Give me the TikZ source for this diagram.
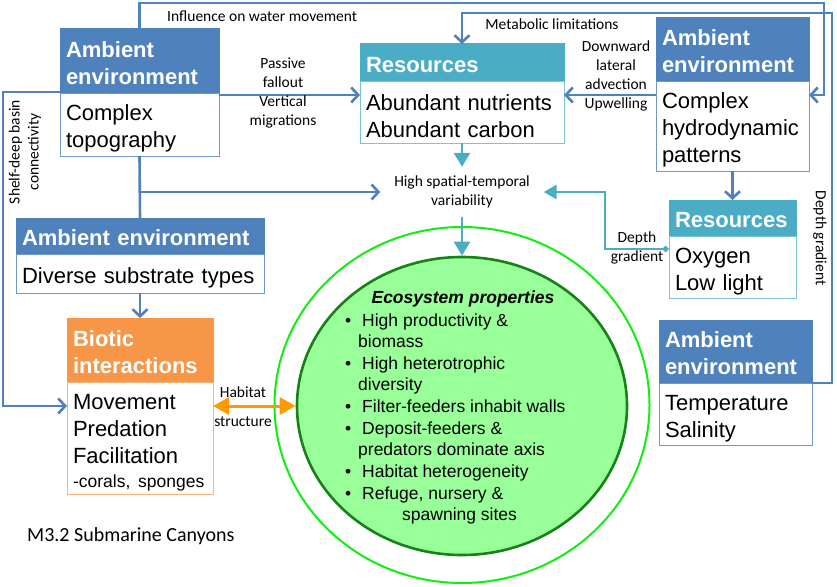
\documentclass[tikz,border=0pt]{standalone}
\usepackage{fontspec}
\setmainfont{Liberation Sans}
\newfontfamily\calib{Carlito}
\usetikzlibrary{arrows.meta,shapes.geometric,calc}
\definecolor{ambblue}{HTML}{4F81BD}
\definecolor{ambline}{HTML}{6F97CC}
\definecolor{resteal}{HTML}{4BACC6}
\definecolor{resline}{HTML}{7CC3D6}
\definecolor{bioorange}{HTML}{F79646}
\definecolor{bioline}{HTML}{FAB37E}
\definecolor{arrorange}{HTML}{FF9900}
\definecolor{outergreen}{HTML}{11EE11}
\definecolor{innerfill}{HTML}{99FF99}
\definecolor{innerdraw}{HTML}{178217}
\newcommand\lblfont{\calib\fontsize{15.5}{19}\selectfont}
\newcommand\bstrut{\rule{0pt}{24pt}}
\newcommand\hstrut{\rule{0pt}{20pt}}
\begin{document}
\begin{tikzpicture}[x=1pt,y=-1pt,
  hdr/.style={fill=#1,draw=#1,line width=1pt,text=white,anchor=north west,outer sep=0pt,
    inner xsep=6pt,inner ysep=0pt,align=left,font=\fontsize{22}{27}\selectfont\bfseries},
  bdy/.style={fill=white,draw=#1,line width=1pt,anchor=north west,outer sep=0pt,
    inner xsep=6pt,inner ysep=0pt,align=left,font=\fontsize{22}{27}\selectfont},
  lbl/.style={font=\lblfont,inner sep=0pt},
  bline/.style={draw=ambblue,line width=2.6pt},
  barrow/.style={bline,-{Straight Barb[length=7pt,width=15pt]}},
  tarrow/.style={draw=resteal,line width=2.8pt,-{Triangle[length=14pt,width=16pt]}},
  eco/.style={font=\fontsize{17.5}{21}\selectfont,anchor=west,inner sep=0pt,text height=0.72em,text depth=0.16em}
]
\useasboundingbox (0,0) rectangle (837,586);
\fill[white] (0,0) rectangle (837,586);

% ---- ellipses
\node[ellipse,draw=outergreen,line width=2pt,minimum width=375pt,minimum height=356pt,inner sep=0pt] (outer) at (462,405) {};
\node[ellipse,draw=innerdraw,fill=innerfill,line width=2.6pt,minimum width=330pt,minimum height=298pt,inner sep=0pt] (inner) at (462,406) {};

% ---- boxes
\node[hdr=ambblue,minimum width=159pt,minimum height=64pt,text width=147pt] (A1h) at (60,29) {\hstrut Ambient\\environment};
\node[bdy=ambline,minimum width=159pt,minimum height=63pt,text width=147pt] (A1b) at (60,93) {\bstrut Complex\\topography};

\node[hdr=resteal,minimum width=204pt,minimum height=37pt,text width=192pt] (Rh) at (360,44) {\hstrut Resources};
\node[bdy=resline,minimum width=204pt,minimum height=62pt,text width=192pt] (Rb) at (360,81) {\bstrut Abundant nutrients\\Abundant carbon};

\node[hdr=ambblue,minimum width=153pt,minimum height=63pt,text width=141pt] (A2h) at (656,18) {\hstrut Ambient\\environment};
\node[bdy=ambline,minimum width=153pt,minimum height=90pt,text width=141pt] (A2b) at (656,81) {\bstrut Complex\\hydrodynamic\\patterns};

\node[hdr=ambblue,minimum width=248pt,minimum height=36pt,text width=236pt] (Dh) at (16,218) {\hstrut Ambient environment};
\node[bdy=ambline,minimum width=248pt,minimum height=39pt,text width=236pt] (Db) at (16,254) {\bstrut Diverse substrate types};

\node[hdr=bioorange,minimum width=146pt,minimum height=64pt,text width=134pt] (Bh) at (67,318) {\hstrut Biotic\\interactions};
\node[bdy=bioline,minimum width=146pt,minimum height=112pt,text width=134pt] (Bb) at (67,382) {\bstrut Movement\\Predation\\Facilitation\\[-3pt]\mbox{\fontsize{17.5}{21}\selectfont -corals,\hspace{0.45em}sponges}};

\node[hdr=resteal,minimum width=127pt,minimum height=36pt,text width=115pt] (R2h) at (669,200) {\hstrut Resources};
\node[bdy=resline,minimum width=127pt,minimum height=62pt,text width=115pt] (R2b) at (669,236) {\bstrut Oxygen\\Low light};

\node[hdr=ambblue,minimum width=153pt,minimum height=63pt,text width=141pt] (A3h) at (659,320) {\hstrut Ambient\\environment};
\node[bdy=ambline,minimum width=153pt,minimum height=62pt,text width=141pt] (A3b) at (659,383) {\bstrut Temperature\\Salinity};

% ---- central label
\node[lbl,align=center,minimum width=163pt,minimum height=50pt] (HS) at (462,192) {High spatial-temporal\\variability};

% ---- coordinates
\coordinate (tr1) at (824,3);
\coordinate (tr2) at (832,13);
\coordinate (tl) at (3,406);
\coordinate (dg) at (605,192);
\coordinate (br) at (A1b.south |- HS.west);

% ---- connectors
\draw[barrow] (A1h.north) |- (tr1) |- ([yshift=-14pt]A2b.north east);
\draw[barrow] (A3b.north east) -| (tr2) -| (Rh.north);
\draw[barrow] ([yshift=1pt]A1b.north west) -| (tl) -- (tl -| Bb.west);
\draw[barrow] ([yshift=-2pt]A1b.north east) coordinate (p1) -- (p1 -| Rb.west);
\draw[barrow] ([yshift=-14pt]A2b.north west) coordinate (p2) -- (p2 -| Rb.east);
\draw[bline] (A1b.south) -- (Dh.north);
\draw[barrow] (br) -- (HS.west);
\draw[barrow] (Db.south) -- (Bh.north);
\draw[barrow] (A2b.south) -- (R2h.north);
\draw[tarrow] (Rb.south) -- (HS.north);
\draw[tarrow] (HS.south) -- (inner.north);
\draw[draw=resteal,line width=2.4pt,{Diamond[length=7pt,width=7pt]}-{Triangle[length=13pt,width=14pt]}]
  ([yshift=-13pt]R2b.north west) -| (dg) -- (HS.east);
\draw[draw=arrorange,line width=3pt,{Triangle[length=16pt,width=17pt]}-{Triangle[length=16pt,width=17pt]}]
  (Bb.east |- inner.west) -- (inner.west);

% ---- labels
\node[lbl,anchor=west] (L1) at (167,16) {Influence on water movement};
\node[lbl,align=center] (L2) at (283,93) {Passive\\fallout\\Vertical\\migrations};
\node[lbl] (L3) at (552,24) {Metabolic limitations};
\node[lbl,align=center] (L4) at (616,76) {Downward\\lateral\\advection\\Upwelling};
\node[lbl,rotate=-90] (L5) at (820,238) {Depth gradient};
\node[lbl,align=center,rotate=90] (L6) at (25,152) {Shelf-deep basin\\connectivity};
\node[lbl,align=center] (L7) at (637,248) {Depth\\gradient};
\node[lbl,align=center] (L8) at (243,407) {Habitat\\[10pt]structure};
\node[font=\calib\fontsize{20}{24}\selectfont,anchor=west,inner sep=0pt] (T) at (27,536) {M3.2 Submarine Canyons};

% ---- ecosystem text
\node[font=\fontsize{17.5}{21}\selectfont\bfseries\itshape,inner sep=0pt] (ET) at (463,299) {Ecosystem properties};
\foreach \yy/\xx/\tt [count=\i] in {
  324/345/{\makebox[17pt][l]{\textbullet}High productivity \&},
  345/358/{biomass},
  367/345/{\makebox[17pt][l]{\textbullet}High heterotrophic},
  388/358/{diversity},
  410/345/{\makebox[17pt][l]{\textbullet}Filter-feeders inhabit walls},
  432/345/{\makebox[17pt][l]{\textbullet}Deposit-feeders \&},
  453/358/{predators dominate axis},
  475/345/{\makebox[17pt][l]{\textbullet}Habitat heterogeneity},
  497/345/{\makebox[17pt][l]{\textbullet}Refuge, nursery \&},
  518/402/{spawning sites}}
  \node[eco] (E\i) at (\xx,\yy) {\tt};
\end{tikzpicture}
\end{document}
